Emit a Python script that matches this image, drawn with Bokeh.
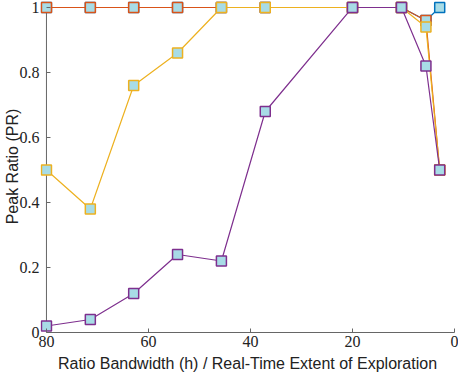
from bokeh.plotting import figure
from bokeh.models import Range1d, FixedTicker
from bokeh.embed import file_html
from bokeh.resources import INLINE

# Data
h = [80, 71.4, 62.9, 54.3, 45.7, 37.1, 20, 10.4, 5.6, 2.9]
pr_blue = [1, 1, 1, 1, 1, 1, 1, 1, 0.96, 1.0]
pr_red = [1, 1, 1, 1, 1, 1, 1, 1, 0.96, 0.5]
pr_yellow = [0.5, 0.38, 0.76, 0.86, 1, 1, 1, 1, 0.94, 0.5]
pr_purple = [0.02, 0.04, 0.12, 0.24, 0.22, 0.68, 1, 1, 0.82, 0.5]
x_ticks = [80, 60, 40, 20, 0]
y_ticks = [0, 0.2, 0.4, 0.6, 0.8, 1]
y_labels = {0: "0", 0.2: "0.2", 0.4: "0.4", 0.6: "0.6", 0.8: "0.8", 1: "1"}

series = [
    (pr_blue, "#0072BD"),
    (pr_red, "#D95319"),
    (pr_yellow, "#EDB120"),
    (pr_purple, "#7E2F8E"),
]

AX = "#666666"
# ranges padded slightly so edge markers are not clipped by the frame
p = figure(width=458, height=374, output_backend="svg", toolbar_location=None,
           x_range=Range1d(81.17, 0), y_range=Range1d(0, 1.0215),
           min_border_left=0, min_border_right=4, min_border_top=0, min_border_bottom=0)
p.outline_line_color = None
p.xgrid.visible = False
p.ygrid.visible = False
p.background_fill_color = "white"
p.border_fill_color = "white"

# visible left axis line at x = 80
p.segment(x0=[x_ticks[0]], y0=[y_ticks[0]], x1=[x_ticks[0]], y1=[y_ticks[-1]],
          line_color=AX, line_width=1)

for ys, c in series:
    p.line(h, ys, line_color=c, line_width=1.2)
    p.scatter(h, ys, marker="square", size=10, fill_color="#A8DCE6",
              line_color=c, line_width=1.5)

for ax in (p.xaxis[0], p.yaxis[0]):
    ax.minor_tick_line_color = None
    ax.axis_line_color = AX
    ax.major_tick_line_color = AX
    ax.major_label_text_font = "Liberation Serif"
    ax.major_label_text_font_size = "16px"
    ax.major_label_text_color = "#222222"
    ax.axis_label_text_font = "Liberation Sans"
    ax.axis_label_text_font_size = "16px"
    ax.axis_label_text_font_style = "normal"
    ax.axis_label_text_color = "#222222"

p.xaxis.major_tick_in = 4
p.xaxis.major_tick_out = 0
p.xaxis.bounds = (0, 80)
p.yaxis.axis_line_color = None
p.yaxis.major_tick_in = 10
p.yaxis.major_tick_out = -6
p.yaxis.bounds = (0, 1)

p.xaxis.ticker = FixedTicker(ticks=x_ticks)
p.yaxis.ticker = FixedTicker(ticks=y_ticks)
p.yaxis.major_label_overrides = y_labels
p.xaxis.axis_label = "Ratio Bandwidth (h) / Real-Time Extent of Exploration"
p.yaxis.axis_label = "Peak Ratio (PR)"
p.xaxis.major_label_standoff = 3
p.yaxis.major_label_standoff = 1
p.xaxis.axis_label_standoff = 5
p.yaxis.axis_label_standoff = -4

open("out.html", "w").write(file_html(p, INLINE))
